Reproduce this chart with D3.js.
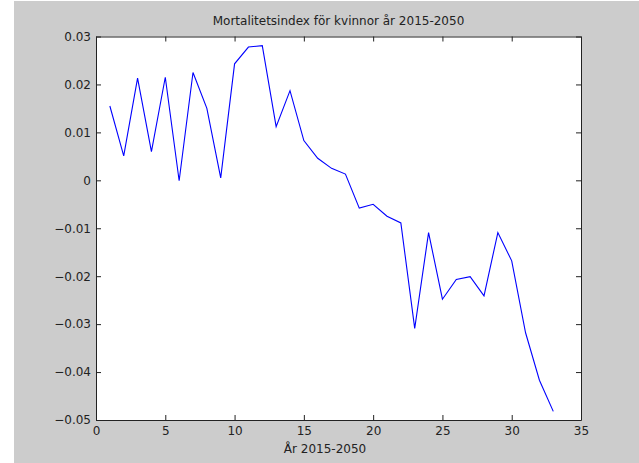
<!DOCTYPE html>
<html>
<head>
<meta charset="utf-8">
<script src="https://cdn.jsdelivr.net/npm/d3@7"></script>
<style>
  html, body { margin: 0; padding: 0; background: #ffffff; }
  svg { display: block; }
  text { font-family: "DejaVu Sans", sans-serif; font-size: 12px; fill: #222; }
</style>
</head>
<body>
<script>
// Mortality index for women, one value per projection step
const steps = d3.range(1, 34);
const mortalityIndex = [
  0.0155, 0.0051, 0.0213, 0.0060, 0.0215, -0.0001, 0.0225, 0.0150, 0.0005, 0.0243,
  0.0278, 0.0281, 0.0112, 0.0187, 0.0083, 0.0046, 0.0025, 0.0013, -0.0058, -0.0050,
  -0.0075, -0.0089, -0.0309, -0.0109, -0.0248, -0.0207, -0.0201, -0.0241, -0.0109, -0.0168,
  -0.0318, -0.0417, -0.0482
];
const xTicks = [0, 5, 10, 15, 20, 25, 30, 35];
const yTicks = [0.03, 0.02, 0.01, 0, -0.01, -0.02, -0.03, -0.04, -0.05];
const titleText = "Mortalitetsindex för kvinnor år 2015-2050";
const xLabelText = "År 2015-2050";

const W = 639, H = 463;
const plot = { left: 96, right: 581, top: 36.5, bottom: 420 };

const svg = d3.select("body").append("svg").attr("width", W).attr("height", H);

// figure background
svg.append("rect").attr("x", 14).attr("y", 1).attr("width", W - 14).attr("height", H - 1)
  .attr("fill", "#cccccc");

const x = d3.scaleLinear().domain([0, 35]).range([plot.left, plot.right]);
const y = d3.scaleLinear().domain([-0.05, 0.03]).range([plot.bottom, plot.top]);

// axes area
svg.append("rect")
  .attr("x", plot.left).attr("y", plot.top)
  .attr("width", plot.right - plot.left).attr("height", plot.bottom - plot.top)
  .attr("fill", "#ffffff");

const fmt = d => d === 0 ? "0" : d3.format(".2f")(d);

// bottom and left axes with inward ticks
const gx = svg.append("g").attr("transform", `translate(0,${plot.bottom})`)
  .call(d3.axisBottom(x).tickValues(xTicks).tickSizeInner(-5).tickSizeOuter(0).tickPadding(10));
const gy = svg.append("g").attr("transform", `translate(${plot.left},0)`)
  .call(d3.axisLeft(y).tickValues(yTicks).tickFormat(fmt).tickSizeInner(-5).tickSizeOuter(0).tickPadding(10));
// top and right axes (box), ticks only
const gxt = svg.append("g").attr("transform", `translate(0,${plot.top})`)
  .call(d3.axisTop(x).tickValues(xTicks).tickSizeInner(-5).tickSizeOuter(0).tickFormat(""));
const gyr = svg.append("g").attr("transform", `translate(${plot.right},0)`)
  .call(d3.axisRight(y).tickValues(yTicks).tickSizeInner(-5).tickSizeOuter(0).tickFormat(""));

[gx, gy, gxt, gyr].forEach(g => {
  g.selectAll("path.domain").attr("stroke", "#222").attr("stroke-width", 1);
  g.selectAll(".tick line").attr("stroke", "#222");
  g.selectAll(".tick text").attr("font-family", "DejaVu Sans, sans-serif").attr("font-size", 12).attr("fill", "#222");
});
gy.selectAll(".tick text").attr("x", -5);
gx.selectAll(".tick text").attr("dy", "0.45em");

// data line
const line = d3.line().x((d, i) => x(steps[i])).y(d => y(d));
svg.append("path").datum(mortalityIndex)
  .attr("d", line)
  .attr("fill", "none")
  .attr("stroke", "#0000ff")
  .attr("stroke-width", 1.1);

// title and x label
svg.append("text").attr("x", (plot.left + plot.right) / 2).attr("y", 25)
  .attr("text-anchor", "middle").text(titleText);
svg.append("text").attr("x", 325).attr("y", 453)
  .attr("text-anchor", "middle").text(xLabelText);
</script>
</body>
</html>
